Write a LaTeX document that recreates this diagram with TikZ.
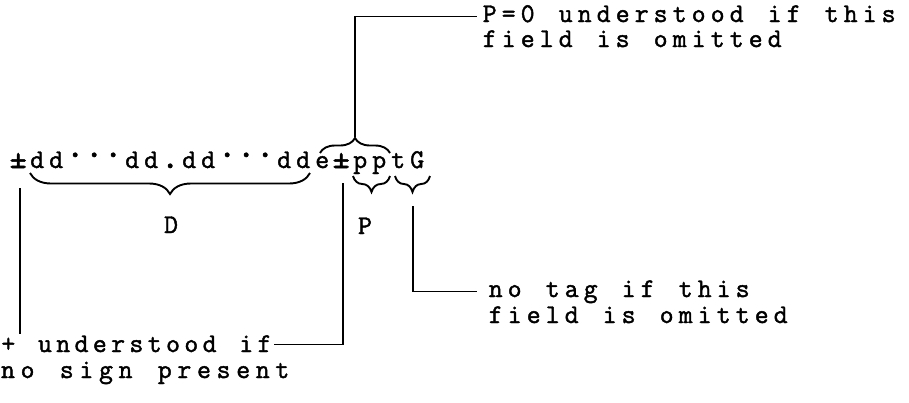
\documentclass[tikz,border=0pt]{standalone}
\usepackage{fontspec}
\usepackage{graphicx}
\usetikzlibrary{decorations.pathreplacing}
\newfontfamily\twfont[FakeBold=1.6]{Latin Modern Mono}
\newlength\twpitch
\setlength\twpitch{19pt}
\makeatletter
\def\tws#1{\tws@a#1\relax}
\def\tws@a#1{\ifx\relax#1\else\makebox[\twpitch][c]{#1}\expandafter\tws@a\fi}
\makeatother
\newcommand\bigdot{\scalebox{1.4}{.}}
\newcommand\rdotcell{\makebox[\twpitch][c]{\raisebox{11pt}{\bigdot}}}
\newcommand\pdotcell{\makebox[\twpitch][c]{\bigdot}}
\newcommand\pmc{\scalebox{1.25}{±}}
\begin{document}
\begin{tikzpicture}[x=1pt,y=-1pt,
  tw/.style={font=\fontsize{27}{25}\twfont, inner sep=0pt, anchor=base west, text height=14pt, text depth=3pt},
  lbl/.style={font=\fontsize{27}{25}\twfont, inner sep=0pt, anchor=base},
  ln/.style={line width=1.9pt},
  br/.style={decorate, decoration={brace, amplitude=#1}, line width=1.9pt}]
\fill[white] (0,0) rectangle (909,402);
\useasboundingbox (0,0) rectangle (909,402);

% main format line
\node[tw] (main) at (8.5,168) {\tws{\pmc dd}\rdotcell\rdotcell\rdotcell\tws{dd}\pdotcell\tws{dd}\rdotcell\rdotcell\rdotcell\tws{dde\pmc pptG}};

% labels
\node[lbl] (Dlab) at (171,233) {D};
\node[lbl] (Plab) at (365,234) {P};

% annotations
\node[tw] (p1) at (480,22) {\tws{P=0~understood~if~this}};
\node[tw] (p2) at (480,47) {\tws{field~is~omitted}};
\node[tw] (t1) at (486,297) {\tws{no~tag~if~this}};
\node[tw] (t2) at (486,323) {\tws{field~is~omitted}};
\node[tw] (u1) at (-1,352) {\setlength\twpitch{18.3pt}\tws{+~understood~if}};
\node[tw] (u2) at (-2,378) {\setlength\twpitch{19.6pt}\tws{no~sign~present}};

% braces
\coordinate (Dl) at (30,173);
\coordinate (Dr) at (310,173);
\draw[br=21pt] (Dr) -- (Dl);
\coordinate (Ol) at (320,153);
\coordinate (Or) at (390,153);
\draw[br=15pt] (Ol) -- (Or);
\coordinate (ppl) at (353,176);
\coordinate (ppr) at (390,176);
\draw[br=16pt] (ppr) -- (ppl);
\coordinate (tgl) at (395,176);
\coordinate (tgr) at (430,176);
\draw[br=16pt] (tgr) -- (tgl);

% connectors
\coordinate (sgnTop) at (20,188);
\draw[ln] (sgnTop) -- ([yshift=4pt]sgnTop |- u1.north);
\coordinate (expTop) at (343,183);
\draw[ln] (expTop) |- ([yshift=2pt]u1.east);
\coordinate (pTop) at (355,137);
\draw[ln] (pTop) |- ([xshift=-3pt]p1.west);
\coordinate (tgTop) at (413,206);
\draw[ln] (tgTop) |- ([xshift=-9pt]t1.west);
\end{tikzpicture}
\end{document}
